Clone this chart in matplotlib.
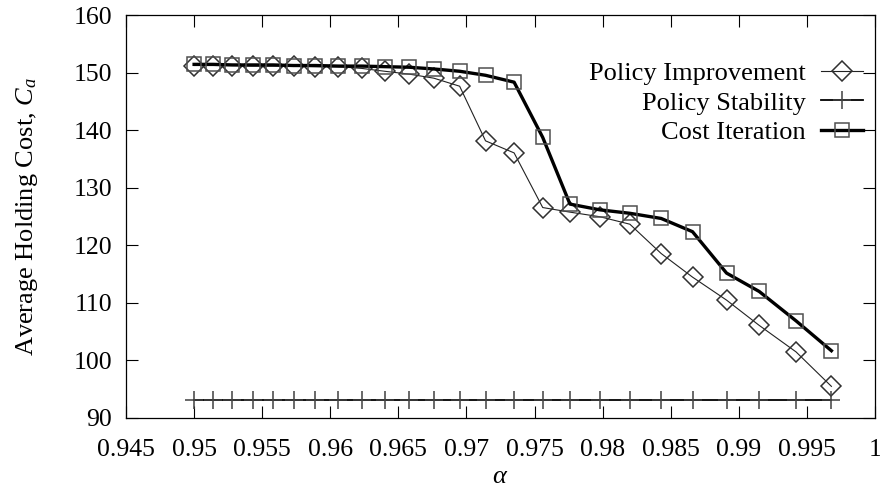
import matplotlib
matplotlib.use("Agg")
import matplotlib.pyplot as plt

plt.rcParams['font.family'] = ['Liberation Serif', 'DejaVu Serif']
plt.rcParams['mathtext.fontset'] = 'custom'
plt.rcParams['mathtext.rm'] = 'Liberation Serif'
plt.rcParams['mathtext.it'] = 'Liberation Serif:italic'

alpha = [0.9500, 0.9514, 0.9528, 0.9543, 0.9558, 0.9573, 0.9589, 0.9606,
         0.9623, 0.9640, 0.9658, 0.9676, 0.9695, 0.9714, 0.9735, 0.9756,
         0.9776, 0.9798, 0.9820, 0.9843, 0.9866, 0.9891, 0.9915, 0.9942,
         0.9968]
policy_improvement = [151.3, 151.3, 151.3, 151.2, 151.2, 151.2, 151.1, 151.1,
                      150.8, 150.3, 149.8, 149.1, 147.7, 138.2, 136.1, 126.6,
                      125.8, 125.0, 123.7, 118.6, 114.5, 110.5, 106.1, 101.5,
                      95.5]
policy_stability = [93.1] * 25
cost_iteration = [151.5, 151.5, 151.4, 151.4, 151.4, 151.3, 151.3, 151.2,
                  151.2, 151.1, 151.0, 150.7, 150.3, 149.6, 148.4, 138.8,
                  127.2, 126.2, 125.6, 124.7, 122.4, 115.2, 112.0, 106.9,
                  101.7]
xticks = [0.945, 0.95, 0.955, 0.96, 0.965, 0.97, 0.975, 0.98, 0.985, 0.99, 0.995, 1.0]
xtick_labels = ["0.945", "0.95", "0.955", "0.96", "0.965", "0.97", "0.975",
                "0.98", "0.985", "0.99", "0.995", "1"]
yticks = [90, 100, 110, 120, 130, 140, 150, 160]

fig = plt.figure(figsize=(8.8, 4.87), dpi=100)
ax = fig.add_axes([0.1432, 0.1417, 0.9943 - 0.1432, 0.9682 - 0.1417])

ax.plot(alpha, policy_improvement, color='#222222', lw=0.8, marker='D',
        ms=10.0, mfc='none', mec='#303030', mew=1.1, label='Policy Improvement')
ax.plot(alpha, policy_stability, color='black', lw=1.3, marker='+',
        ms=12.5, mec='#404040', mew=1.1, label='Policy Stability')
ax.plot(alpha, cost_iteration, color='black', lw=2.4, marker='s',
        ms=10.3, mfc='none', mec='#505050', mew=1.1, label='Cost Iteration')

ax.set_xlim(0.945, 1.0)
ax.set_ylim(90, 160)
ax.set_xticks(xticks)
ax.set_xticklabels(xtick_labels)
ax.set_yticks(yticks)
ax.tick_params(direction='in', length=8.5, width=0.8, top=True, right=True,
               labelsize=18.5)
ax.tick_params(axis='y', pad=10)
ax.tick_params(axis='x', pad=15)
for s in ax.spines.values():
    s.set_linewidth(0.9)

ax.set_xlabel(r'$\alpha$', fontsize=19, labelpad=4)
ax.set_ylabel(r'Average Holding Cost, $C_a$', fontsize=19, labelpad=24)

leg = ax.legend(loc='upper right', bbox_to_anchor=(0.984, 0.885),
                frameon=False, fontsize=19, markerfirst=False, numpoints=1,
                handlelength=1.6, handletextpad=0.57, labelspacing=0.22,
                borderpad=0, borderaxespad=0)
leg._legend_handle_box.get_children()[0].align = "right"

fig.savefig('out.png', dpi=100)
